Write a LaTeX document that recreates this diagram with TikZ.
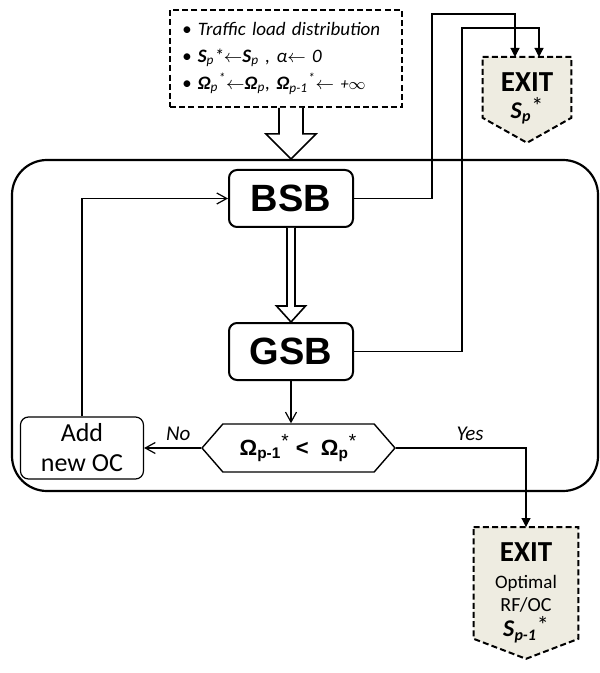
\documentclass[tikz,border=0pt]{standalone}
\usepackage{fontspec}
\setmainfont{Carlito}
\newfontfamily\headfont{Liberation Sans}
\usepackage{tikz}
\usetikzlibrary{arrows.meta,positioning,shapes.symbols,calc,backgrounds}
\definecolor{exitfill}{RGB}{238,236,225}
% hollow block arrow pointing down: from, to, shaft half width, head half width, head length
\newcommand{\hollowdown}[5]{%
  \draw[line width=0.8pt, fill=white] ($(#1)+(-#3,0)$) -- ($(#2)+(-#3,-#5)$) -- ($(#2)+(-#4,-#5)$) -- (#2)
    -- ($(#2)+(#4,-#5)$) -- ($(#2)+(#3,-#5)$) -- ($(#1)+(#3,0)$);}
\newcommand{\bigstar}{\raisebox{0.15em}{\mdseries\upshape *}}

\begin{document}
\begin{tikzpicture}[
  x=0.5pt, y=-0.5pt,
  node distance=47pt and 28.5pt,
  frame/.style={draw, line width=1.1pt, rounded corners=17.5pt, minimum width=293pt, minimum height=165.5pt, inner sep=0pt},
  inbox/.style={draw, line width=1pt, dash pattern=on 3pt off 1.6pt, align=left, text width=104pt, inner xsep=6pt, minimum height=48.5pt, font=\itshape\fontsize{9.5}{13.5}\selectfont},
  blockbox/.style={draw, line width=1pt, rounded corners=4pt, minimum width=62pt, minimum height=28.5pt, inner sep=0pt, font=\headfont\bfseries\fontsize{19}{19}\selectfont},
  addbox/.style={draw, line width=0.6pt, rounded corners=4pt, minimum width=61.5pt, minimum height=31pt, inner sep=0pt, align=center, font=\fontsize{13}{15}\selectfont},
  decision/.style={draw, line width=0.7pt, signal, signal to=west and east, signal pointer angle=98, minimum width=96.5pt, minimum height=24pt, inner sep=1pt, font=\headfont\bfseries\fontsize{11}{11}\selectfont},
  exitbox/.style={anchor=north, align=center, inner sep=0pt},
  exitline/.style={draw, line width=1pt, dash pattern=on 3pt off 1.6pt, fill=exitfill},
  line/.style={line width=0.6pt},
  openarr/.style={line, -{Straight Barb[length=5pt, width=5.5pt]}},
  exitarr/.style={line, -{Triangle[length=4.5pt, width=4.5pt]}},
  lbl/.style={font=\itshape\fontsize{10.5}{12}\selectfont}
]
\useasboundingbox (0,0) rectangle (599,673);

\node[frame] (cont) at (305,325.5) {};

\node[inbox] (in) at (286,58.5) {%
  \textbullet\ Traffic load distribution\\
  \textbullet\ \textbf{S}\textsubscript{p}*$\leftarrow$\textbf{S}\textsubscript{p} , α$\leftarrow$ 0\\
  \textbullet\ \textbf{Ω}\textsubscript{p}\textsuperscript{*}$\leftarrow$\textbf{Ω}\textsubscript{p}, \textbf{Ω}\textsubscript{p-1}\textsuperscript{*}$\leftarrow$ {\footnotesize +$\infty$}};

\node[blockbox] (bsb) at (291,198.5) {BSB};
\node[blockbox, below=of bsb] (gsb) {GSB};
\node[decision] (hex) at (298.5,448) {Ω\textsubscript{p-1}\textsuperscript{\mdseries\fontsize{9.5}{9.5}\selectfont *} <\ \ Ω\textsubscript{p}\textsuperscript{\mdseries\fontsize{9.5}{9.5}\selectfont *}};
\node[addbox, left=of hex] (add) {Add\\new OC};

\node[exitbox, minimum width=44pt, minimum height=42.5pt] (exit1) at (527,57)
  {\fontsize{14.5}{12}\selectfont\textbf{EXIT}\\[1.6pt]
   \fontsize{12}{12}\selectfont\textbf{\textit{S}}\textsubscript{\textbf{\textit{p}}}\bigstar\rule[-4.5pt]{0pt}{0pt}};
\node[exitbox, minimum width=52pt, minimum height=65.5pt] (exit2) at (526,527)
  {\fontsize{14.5}{12}\selectfont\textbf{EXIT}\\[1.2pt]
   \fontsize{9.5}{12}\selectfont Optimal\\[-0.2pt]
   RF/OC\\[0.5pt]
   \fontsize{12}{12}\selectfont\textbf{\textit{S}}\textsubscript{\textbf{\textit{p-1}}}\bigstar};
\begin{scope}[on background layer]
  \draw[exitline] (exit1.north west) -- (exit1.north east) -- ([yshift=12.5pt]exit1.south east)
    -- (exit1.south) -- ([yshift=12.5pt]exit1.south west) -- cycle;
  \draw[exitline] (exit2.north west) -- (exit2.north east) -- ([yshift=10pt]exit2.south east)
    -- (exit2.south) -- ([yshift=10pt]exit2.south west) -- cycle;
\end{scope}

% block arrows
\coordinate (a0) at (bsb |- in.south);
\coordinate (a1) at (bsb |- cont.north);
\hollowdown{a0}{a1}{12}{25}{25}
\hollowdown{bsb.south}{gsb.north}{4}{14.5}{16}

% loop and exits
\coordinate (up1) at (432,14);
\coordinate (up2) at (462,28);
\draw[openarr] (gsb.south) -- (gsb.south |- hex.north);
\draw[openarr] (hex.west) -- node[lbl, pos=0.4, above] {No} (add.east);
\draw[openarr] (add.north) |- (bsb.west);
\draw[exitarr] (bsb.east) -| (up1) -| ([xshift=-6pt]exit1.north);
\draw[exitarr] (gsb.east) -| (up2) -| ([xshift=6pt]exit1.north);
\draw[exitarr] (hex.east) -| node[lbl, pos=0.285, above] {Yes} (exit2.north);
\end{tikzpicture}
\end{document}
